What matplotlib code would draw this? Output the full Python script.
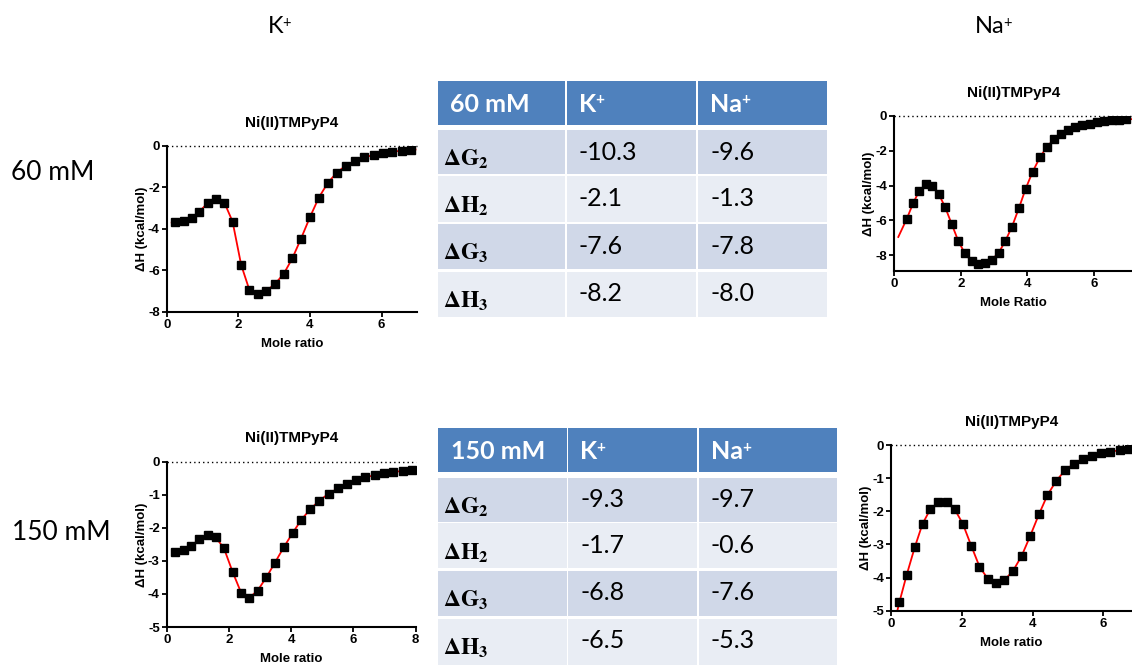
import matplotlib
matplotlib.use("Agg")
import matplotlib.pyplot as plt
from matplotlib.patches import Rectangle

plt.rcParams['font.family'] = ['Liberation Sans', 'DejaVu Sans']
plt.rcParams['mathtext.fontset'] = 'stix'

W, H = 1132, 665

# ---------------- ITC titration data (mole ratio, kcal/mol) ----------------
k60_x = [0.23, 0.47, 0.70, 0.91, 1.16, 1.38, 1.61, 1.84, 2.08, 2.31, 2.55, 2.78,
         3.02, 3.27, 3.51, 3.75, 4.00, 4.25, 4.50, 4.75, 5.00, 5.26, 5.52, 5.78,
         6.04, 6.30, 6.56, 6.82]
k60_y = [-3.68, -3.62, -3.49, -3.17, -2.73, -2.57, -2.73, -3.65, -5.74, -6.95,
         -7.14, -6.99, -6.67, -6.17, -5.42, -4.48, -3.44, -2.49, -1.78, -1.29,
         -0.95, -0.71, -0.55, -0.43, -0.35, -0.27, -0.23, -0.18]
k60_fit_x = [0.14, 6.95]
k60_fit_y = [-3.70, -0.17]

na60_x = [0.37, 0.57, 0.75, 0.94, 1.13, 1.33, 1.53, 1.73, 1.92, 2.12, 2.33, 2.52,
          2.73, 2.93, 3.14, 3.34, 3.54, 3.75, 3.95, 4.16, 4.38, 4.59, 4.80, 5.02,
          5.23, 5.45, 5.66, 5.88, 6.10, 6.32, 6.54, 6.76, 6.98]
na60_y = [-5.94, -5.00, -4.31, -3.94, -4.02, -4.46, -5.25, -6.23, -7.17, -7.90,
          -8.35, -8.52, -8.48, -8.27, -7.87, -7.19, -6.37, -5.29, -4.19, -3.21,
          -2.38, -1.77, -1.35, -1.04, -0.81, -0.65, -0.52, -0.44, -0.37, -0.29,
          -0.23, -0.21, -0.19]
na60_fit_x = [0.12, 7.15]
na60_fit_y = [-6.96, -0.18]

k150_x = [0.27, 0.54, 0.79, 1.05, 1.32, 1.57, 1.84, 2.12, 2.39, 2.66, 2.92, 3.20,
          3.48, 3.76, 4.05, 4.33, 4.61, 4.90, 5.20, 5.49, 5.78, 6.08, 6.38, 6.68,
          6.98, 7.28, 7.58, 7.89]
k150_y = [-2.72, -2.67, -2.54, -2.35, -2.22, -2.28, -2.62, -3.34, -3.96, -4.11,
          -3.90, -3.50, -3.05, -2.59, -2.15, -1.75, -1.44, -1.18, -0.97, -0.81,
          -0.66, -0.56, -0.47, -0.41, -0.35, -0.31, -0.28, -0.25]
k150_fit_x = [0.18, 8.0]
k150_fit_y = [-2.74, -0.24]

na150_x = [0.24, 0.44, 0.67, 0.89, 1.11, 1.34, 1.58, 1.80, 2.03, 2.27, 2.50, 2.73,
           2.96, 3.20, 3.44, 3.69, 3.93, 4.18, 4.42, 4.67, 4.92, 5.17, 5.42, 5.69,
           5.94, 6.20, 6.46, 6.73]
na150_y = [-4.73, -3.93, -3.09, -2.38, -1.94, -1.73, -1.73, -1.94, -2.38, -3.05,
           -3.67, -4.03, -4.17, -4.08, -3.81, -3.35, -2.75, -2.09, -1.51, -1.08,
           -0.76, -0.56, -0.41, -0.32, -0.25, -0.20, -0.16, -0.13]
na150_fit_x = [0.10, 6.85]
na150_fit_y = [-5.35, -0.12]

# ---------------- thermodynamic parameters (kcal/mol) ----------------
param_labels = ["G", "H", "G", "H"]
param_subs = ["2", "2", "3", "3"]
t60_k = ["-10.3", "-2.1", "-7.6", "-8.2"]
t60_na = ["-9.6", "-1.3", "-7.8", "-8.0"]
t150_k = ["-9.3", "-1.7", "-6.8", "-6.5"]
t150_na = ["-9.7", "-0.6", "-7.6", "-5.3"]

SANS = ["Lato", "DejaVu Sans"]

fig = plt.figure(figsize=(W / 100, H / 100), dpi=100)
fig.patch.set_facecolor("white")

bg = fig.add_axes([0, 0, 1, 1])
bg.set_xlim(0, W)
bg.set_ylim(H, 0)
bg.axis("off")


def draw_ion(x, y, base, size, color="black", weight="normal", ha="left"):
    """Ion symbol with a raised '+' charge."""
    t = bg.text(x, y, base, fontsize=size, family=SANS, va="baseline",
                color=color, fontweight=weight, ha=ha)
    bg.annotate("+", xy=(1.0, 1.0), xycoords=t, xytext=(-0.8, -size * 0.45),
                textcoords="offset points", fontsize=size * 0.62, family=SANS,
                color=color, fontweight=weight, ha="left", va="baseline")
    return t


# column / panel labels
draw_ion(268, 33, "K", 17)
draw_ion(975, 33, "Na", 17)
bg.text(11, 180, "60 mM", fontsize=19, family=SANS, ha="left", va="baseline")
bg.text(12, 540.5, "150 mM", fontsize=19, family=SANS, ha="left", va="baseline")

HEAD = "#4F81BD"
DARK = "#D0D8E8"
LIGHT = "#E9EDF4"


def draw_table(title, kvals, navals, cols, head, rows, text_x):
    # header row
    for (x0, x1) in cols:
        bg.add_patch(Rectangle((x0, head[0]), x1 - x0, head[1] - head[0],
                               facecolor=HEAD, edgecolor="none"))
    hb = (head[0] + head[1]) / 2 + 9
    bg.text(text_x[0], hb, title, color="white", fontsize=18, fontweight="bold",
            family=SANS, ha="left", va="baseline")
    draw_ion(text_x[1], hb, "K", 18, color="white", weight="bold")
    draw_ion(text_x[2], hb, "Na", 18, color="white", weight="bold")
    for i, (y0, y1) in enumerate(rows):
        fc = DARK if i % 2 == 0 else LIGHT
        for (x0, x1) in cols:
            bg.add_patch(Rectangle((x0, y0), x1 - x0, y1 - y0,
                                   facecolor=fc, edgecolor="none"))
        label = r"$\mathbf{\Delta %s_{%s}}$" % (param_labels[i], param_subs[i])
        bg.text(cols[0][0] + 5, y0 + 36, label, fontsize=17, ha="left", va="baseline")
        cy = y0 + 22
        bg.text(text_x[1], cy, kvals[i], fontsize=18, family=SANS,
                ha="left", va="center")
        bg.text(text_x[2], cy, navals[i], fontsize=18, family=SANS,
                ha="left", va="center")


draw_table("60 mM", t60_k, t60_na,
           cols=[(437.7, 565), (567.3, 695.7), (698.3, 826.7)],
           head=(81, 125),
           rows=[(130, 174.3), (176.3, 221.7), (224, 269.3), (271.7, 316.7)],
           text_x=(450, 579, 710))
draw_table("150 mM", t150_k, t150_na,
           cols=[(438.3, 566.7), (568.3, 696.7), (699.3, 837.3)],
           head=(428.3, 472.3),
           rows=[(477.7, 521.7), (523.3, 568.3), (571, 616), (618.7, 666)],
           text_x=(451, 580, 711))


def itc_panel(box, x, y, fx, fy, xlim, ylim, xticks, yticks, xlabel):
    l, r, t, b = box
    ax = fig.add_axes([l / W, 1 - b / H, (r - l) / W, (b - t) / H])
    ax.set_xlim(*xlim)
    ax.set_ylim(*ylim)
    line_x = [fx[0]] + list(x) + [fx[1]]
    line_y = [fy[0]] + list(y) + [fy[1]]
    ax.plot(line_x, line_y, color="#FF0000", lw=1.3, zorder=2)
    ax.plot(x, y, ls="none", marker="s", ms=5.6, color="black", zorder=3)
    ax.axhline(0, color="black", lw=1.0, ls=(0, (1, 2.2)), clip_on=False, zorder=1)
    for s in ("top", "right"):
        ax.spines[s].set_visible(False)
    for s in ("left", "bottom"):
        ax.spines[s].set_linewidth(1.5)
    ax.set_xticks(xticks)
    ax.set_yticks(yticks)
    ax.set_yticklabels([str(v) for v in yticks])
    ax.tick_params(direction="out", length=3.5, width=1.3, labelsize=9.5, pad=1.5)
    for lab in ax.get_xticklabels() + ax.get_yticklabels():
        lab.set_fontweight("bold")
    ax.set_title("Ni(II)TMPyP4", fontsize=11, fontweight="bold", pad=14)
    ax.set_xlabel(xlabel, fontsize=9.5, fontweight="bold", labelpad=5)
    ax.set_ylabel("ΔH (kcal/mol)", fontsize=9.5, fontweight="bold", labelpad=0)
    ax.patch.set_visible(False)
    return ax


itc_panel((166.7, 417.3, 146, 311.7), k60_x, k60_y, k60_fit_x, k60_fit_y,
          (0, 7), (-8, 0), [0, 2, 4, 6], [0, -2, -4, -6, -8], "Mole ratio")
itc_panel((894.3, 1132, 116, 270.7), na60_x, na60_y, na60_fit_x, na60_fit_y,
          (0, 7.15), (-8.9, 0), [0, 2, 4, 6], [0, -2, -4, -6, -8], "Mole Ratio")
itc_panel((166.7, 415.7, 461.7, 627), k150_x, k150_y, k150_fit_x, k150_fit_y,
          (0, 8), (-5, 0), [0, 2, 4, 6, 8], [0, -1, -2, -3, -4, -5], "Mole ratio")
itc_panel((891, 1131.7, 445, 610.7), na150_x, na150_y, na150_fit_x, na150_fit_y,
          (0, 6.8), (-5, 0), [0, 2, 4, 6], [0, -1, -2, -3, -4, -5], "Mole ratio")

fig.savefig("out.png", dpi=100, facecolor="white")
